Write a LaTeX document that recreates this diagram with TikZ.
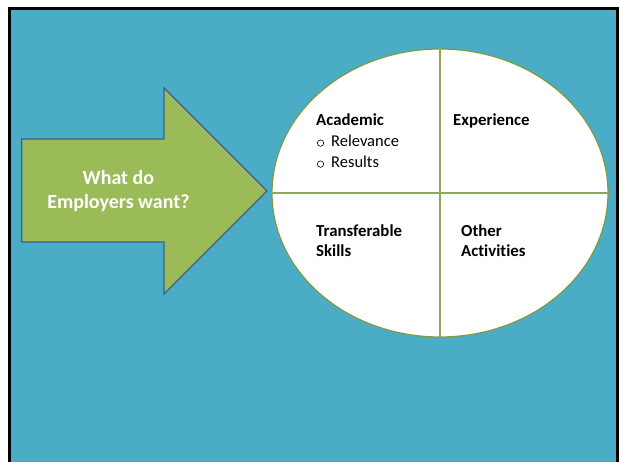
\documentclass[tikz,border=0pt]{standalone}
\usepackage{fontspec}
\setmainfont{Carlito}[Ligatures=NoCommon]
\usetikzlibrary{shapes.geometric}

\definecolor{slideblue}{HTML}{4BACC6}
\definecolor{arrowgreen}{HTML}{9BBB59}
\definecolor{arrowline}{HTML}{3D5F8E}
\definecolor{wheelline}{HTML}{7F9B3F}
\definecolor{splitline}{HTML}{8DAA52}

\tikzset{
  quad/.style={anchor=base west, inner sep=0pt, font=\fontsize{16.8}{20}\selectfont\bfseries},
  bullet/.style={anchor=base west, inner sep=0pt, font=\fontsize{16.5}{20}\selectfont},
  ring/.style={line width=0.6pt}
}

\begin{document}
\begin{tikzpicture}[x=1pt,y=-1pt]
  \useasboundingbox[fill=white] (0,0) rectangle (619,462);
  \draw[line width=3pt, fill=slideblue] (9.8,8.8) rectangle (617.8,475);
  % arrow
  \draw[fill=arrowgreen, draw=arrowline, line width=1.2pt]
    (21.7,139) -- (164,139) -- (164,88) -- (267,191) -- (164,294) -- (164,242) -- (21.7,242) -- cycle;
  \node[align=center, text=white, font=\fontsize{20}{23.5}\selectfont\bfseries] (question) at (118.4,191) {What do\\Employers want?};
  % wheel
  \node[ellipse, draw=wheelline, line width=1.2pt, fill=white, minimum width=336pt, minimum height=288pt, inner sep=0pt] (wheel) at (440,193) {};
  \draw[splitline, line width=1.6pt] (wheel.north) -- (wheel.south);
  \draw[splitline, line width=1.6pt] (wheel.west) -- (wheel.east);
  \node[quad] (academic) at (316,126) {Academic};
  \node[bullet] (relevance) at (331,146.7) {Relevance};
  \node[bullet] (results) at (331,167.7) {Results};
  \draw[ring] ([xshift=-10.5pt,yshift=3.6pt]relevance.base west) circle (3.2);
  \draw[ring] ([xshift=-10.5pt,yshift=3.6pt]results.base west) circle (3.2);
  \node[quad] (experience) at (453,126) {Experience};
  \node[quad] (transferable) at (316,236.7) {Transferable};
  \node[quad] (skills) at (316,256.7) {Skills};
  \node[quad] (other) at (461,236.7) {Other};
  \node[quad] (activities) at (461,256.7) {Activities};
\end{tikzpicture}
\end{document}
